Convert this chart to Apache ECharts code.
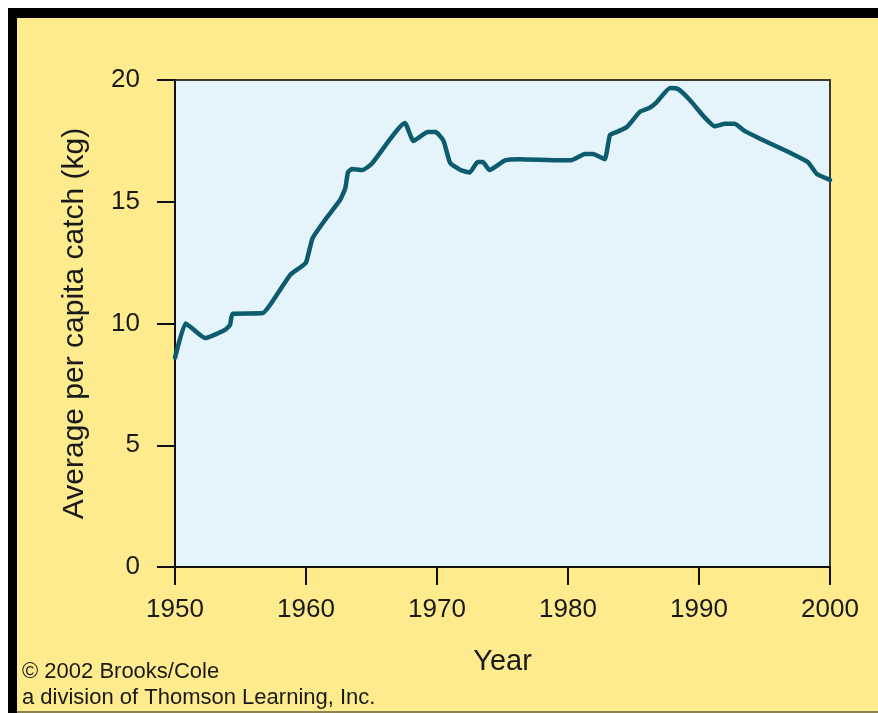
<!DOCTYPE html>
<html>
<head>
<meta charset="utf-8">
<script src="https://cdn.jsdelivr.net/npm/echarts@6/dist/echarts.min.js"></script>
<style>
html,body{margin:0;padding:0;background:#fff;}
#frame{position:absolute;left:8px;top:8px;width:870px;height:705px;background:#000;}
#paper{position:absolute;left:17px;top:18px;width:861px;height:693px;background:#FDEB8D;border-bottom:2px solid #8c8450;}
#chart{position:absolute;left:0;top:0;width:878px;height:713px;}
</style>
</head>
<body>
<div id="frame"></div>
<div id="paper"></div>
<div id="chart"></div>
<script>
const years = [1950, 1950.8, 1951.2, 1952.3, 1953.8, 1954.2, 1954.4, 1956.7, 1957.25, 1958.8, 1959.5, 1960, 1960.5, 1961.45, 1962.6, 1963, 1963.2, 1963.5, 1964.3, 1965, 1967.55, 1968.2, 1969.3, 1969.9, 1970.5, 1971, 1971.8, 1972.5, 1973.1, 1973.5, 1974, 1975.2, 1976.3, 1979.4, 1980.2, 1981.3, 1981.9, 1982.8, 1983.2, 1983.7, 1984.5, 1985.5, 1986.2, 1986.7, 1987.8, 1988.4, 1989.3, 1990.4, 1991.2, 1992, 1992.7, 1993.5, 1994.7, 1997, 1998.3, 1999, 2000];
const catchKg = [8.6, 10.0, 9.85, 9.4, 9.73, 9.94, 10.4, 10.43, 10.76, 12.0, 12.28, 12.5, 13.5, 14.25, 15.07, 15.56, 16.2, 16.35, 16.3, 16.55, 18.23, 17.5, 17.86, 17.86, 17.5, 16.6, 16.3, 16.2, 16.63, 16.63, 16.3, 16.7, 16.75, 16.7, 16.7, 16.96, 16.96, 16.75, 17.74, 17.86, 18.07, 18.7, 18.85, 19.05, 19.67, 19.63, 19.18, 18.48, 18.1, 18.2, 18.2, 17.9, 17.58, 17.0, 16.63, 16.14, 15.9];
const yearTicks = [1950, 1960, 1970, 1980, 1990, 2000];
const kgTicks = [0, 5, 10, 15, 20];
const xTitle = 'Year';
const yTitle = 'Average per capita catch (kg)';
const credits = ['© 2002 Brooks/Cole', 'a division of Thomson Learning, Inc.'];

const font = 'Liberation Sans, Arial, Helvetica, sans-serif';
const chart = echarts.init(document.getElementById('chart'), null, {renderer: 'canvas'});
chart.setOption({
  backgroundColor: 'transparent',
  animation: false,
  grid: {left: 175, top: 80, width: 655, height: 487, show: true, backgroundColor: '#E5F4FA', borderColor: '#3a3a30', borderWidth: 2},
  xAxis: {
    type: 'value', min: yearTicks[0], max: yearTicks[yearTicks.length - 1], interval: 10,
    name: xTitle, nameLocation: 'middle', nameGap: 80,
    nameTextStyle: {fontFamily: font, fontSize: 29, color: '#1a1a1a'},
    axisLine: {show: true, lineStyle: {color: '#111', width: 2}},
    axisTick: {show: true, length: 18, lineStyle: {color: '#111', width: 2}},
    axisLabel: {fontFamily: font, fontSize: 26, color: '#1a1a1a', margin: 30, formatter: v => String(v)},
    splitLine: {show: false}
  },
  yAxis: {
    type: 'value', min: kgTicks[0], max: kgTicks[kgTicks.length - 1], interval: 5,
    name: yTitle, nameLocation: 'middle', nameGap: 85, nameRotate: 90,
    nameTextStyle: {fontFamily: font, fontSize: 30, color: '#1a1a1a'},
    axisLine: {show: true, lineStyle: {color: '#111', width: 2}},
    axisTick: {show: true, length: 18, lineStyle: {color: '#111', width: 2}},
    axisLabel: {fontFamily: font, fontSize: 26, color: '#1a1a1a', margin: 35},
    splitLine: {show: false}
  },
  graphic: [
    {type: 'text', left: 22, top: 661, style: {text: credits[0], font: '22px ' + font, fill: '#1a1a1a'}},
    {type: 'text', left: 22, top: 687, style: {text: credits[1], font: '22px ' + font, fill: '#1a1a1a'}}
  ],
  series: [{
    type: 'line',
    data: years.map((y, i) => [y, catchKg[i]]),
    showSymbol: false,
    smooth: 0.15,
    lineStyle: {color: '#0D5B6E', width: 4.5, join: 'round', cap: 'round'}
  }]
});
</script>
</body>
</html>
